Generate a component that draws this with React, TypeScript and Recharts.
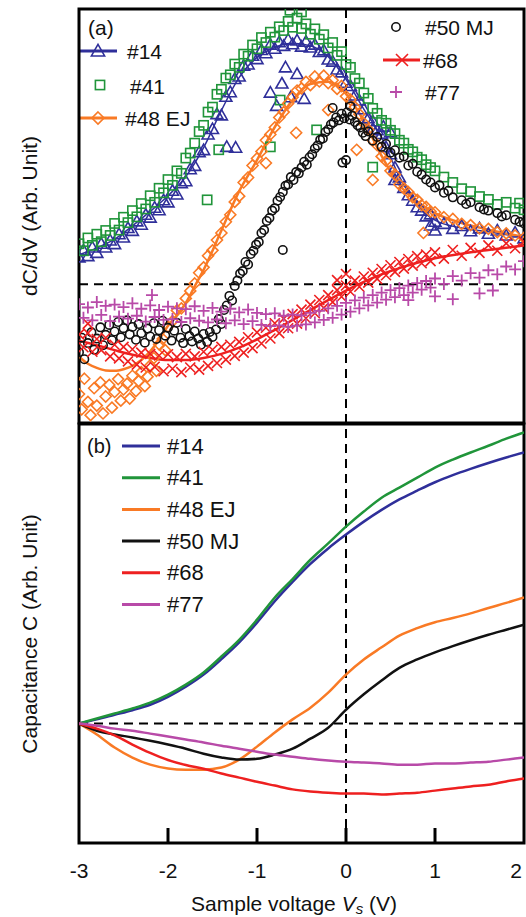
import React from 'react'
import {
    ComposedChart,
    Scatter,
    Line,
    XAxis,
    YAxis,
    ReferenceLine,
    ReferenceArea,
    Customized
} from 'recharts'

const FONT = '"Liberation Sans", Arial, Helvetica, sans-serif'

const COLORS = {
    blue: '#2f2f9a',
    green: '#20953a',
    orange: '#f97a25',
    black: '#111111',
    red: '#ee2020',
    magenta: '#b84aa8'
}

const seriesNames = ['#14', '#41', '#48 EJ', '#50 MJ', '#68', '#77']
const xTicks = [-3, -2, -1, 0, 1, 2]

// (a) dC/dV points, [sample voltage, value]
const dcdv14 = [
    [-3.0, 6.5], [-2.95, 8.2], [-2.9, 6.8], [-2.85, 8.9], [-2.8, 7.6], [-2.75, 9.8], [-2.7, 8.9], [-2.65, 10.6],
    [-2.6, 9.7], [-2.55, 12.1], [-2.5, 11.3], [-2.45, 13.6], [-2.4, 12.9], [-2.35, 15.2], [-2.3, 14.4], [-2.25, 16.8],
    [-2.2, 16.1], [-2.15, 18.5], [-2.1, 17.9], [-2.05, 20.3], [-2.0, 19.8], [-1.95, 22.6], [-1.9, 21.7], [-1.85, 24.4],
    [-1.8, 24.9], [-1.75, 27.8], [-1.7, 28.6], [-1.65, 31.9], [-1.6, 32.4], [-1.55, 36.2], [-1.5, 37.5], [-1.45, 41.1],
    [-1.4, 40.8], [-1.35, 45.3], [-1.3, 46.4], [-1.25, 49.6], [-1.2, 50.2], [-1.15, 52.8], [-1.1, 53.1], [-1.05, 55.2],
    [-1.0, 54.4], [-0.95, 56.6], [-0.9, 55.8], [-0.85, 57.9], [-0.8, 56.9], [-0.75, 58.5], [-0.7, 57.6], [-0.65, 59.1],
    [-0.6, 58.0], [-0.55, 58.9], [-0.5, 57.4], [-0.45, 58.6], [-0.4, 57.2], [-0.35, 57.9], [-0.3, 56.1], [-0.25, 56.5],
    [-0.2, 54.3], [-0.15, 53.8], [-0.1, 51.9], [-0.05, 51.2], [0.0, 48.7], [0.05, 47.9], [0.1, 45.6], [0.15, 44.4],
    [0.2, 42.3], [0.25, 40.1], [0.3, 39.4], [0.35, 37.2], [0.4, 36.3], [0.45, 33.1], [0.5, 31.4], [0.55, 28.2],
    [0.6, 25.8], [0.65, 23.3], [0.7, 21.5], [0.75, 20.2], [0.8, 18.6], [0.85, 17.8], [0.9, 16.4], [0.95, 16.9],
    [1.0, 15.1], [1.1, 14.6], [1.2, 13.4], [1.3, 14.1], [1.4, 12.8], [1.5, 13.5], [1.6, 12.2], [1.7, 13.0],
    [1.8, 11.8], [1.9, 12.5], [2.0, 11.1],
    [-1.34, 33.2], [-1.24, 33.0], [-0.85, 46.3], [-0.78, 43.1], [-0.72, 48.5], [-0.62, 45.2], [-0.55, 50.8],
    [-0.47, 44.8], [-0.68, 52.4], [0.3, 37.5], [0.42, 38.1], [0.5, 36.7], [0.55, 25.2], [0.95, 14.2], [1.0, 13.0]
]

const dcdv41 = [
    [-3.0, 9.8], [-2.95, 8.1], [-2.9, 11.2], [-2.85, 9.4], [-2.8, 12.1], [-2.75, 10.3], [-2.7, 13.0], [-2.65, 11.8],
    [-2.6, 14.7], [-2.55, 13.1], [-2.5, 16.2], [-2.45, 14.9], [-2.4, 17.8], [-2.35, 16.3], [-2.3, 19.5], [-2.25, 18.2],
    [-2.2, 21.4], [-2.15, 19.8], [-2.1, 23.2], [-2.05, 22.1], [-2.0, 25.3], [-1.95, 23.9], [-1.9, 27.4], [-1.85, 26.8],
    [-1.8, 30.5], [-1.75, 31.7], [-1.7, 34.1], [-1.65, 36.9], [-1.6, 38.4], [-1.55, 41.6], [-1.5, 42.8], [-1.45, 45.9],
    [-1.4, 47.1], [-1.35, 49.8], [-1.3, 50.6], [-1.25, 53.2], [-1.2, 52.4], [-1.15, 55.6], [-1.1, 55.1], [-1.05, 57.8],
    [-1.0, 56.9], [-0.95, 59.6], [-0.9, 58.4], [-0.85, 60.9], [-0.8, 59.7], [-0.75, 62.2], [-0.7, 61.3], [-0.65, 63.5],
    [-0.6, 62.1], [-0.55, 64.3], [-0.5, 61.8], [-0.45, 62.9], [-0.4, 60.4], [-0.35, 61.7], [-0.3, 59.2], [-0.25, 60.3],
    [-0.2, 57.1], [-0.15, 58.4], [-0.1, 55.3], [-0.05, 56.2], [0.0, 53.1], [0.05, 52.4], [0.1, 49.7], [0.15, 48.6],
    [0.2, 46.2], [0.25, 44.9], [0.3, 42.5], [0.35, 41.3], [0.4, 39.6], [0.45, 38.9], [0.5, 37.2], [0.55, 36.4],
    [0.6, 34.8], [0.65, 34.1], [0.7, 32.6], [0.75, 32.0], [0.8, 30.7], [0.85, 30.1], [0.9, 28.9], [0.95, 28.2],
    [1.0, 27.4], [1.1, 25.9], [1.2, 24.6], [1.3, 23.1], [1.4, 22.4], [1.5, 21.2], [1.6, 20.5], [1.7, 19.3],
    [1.8, 19.8], [1.9, 18.4], [1.95, 19.6], [2.0, 18.0],
    [-0.74, 44.5], [-0.33, 37.3], [-0.85, 33.2], [0.3, 28.3], [-1.56, 20.4], [-1.43, 32.5], [-0.63, 66.2], [-0.5, 65.8]
]

const dcdv48 = [
    [-3.0, -26.5], [-2.97, -30.2], [-2.94, -22.8], [-2.9, -28.4], [-2.87, -31.6], [-2.83, -25.1], [-2.8, -29.3],
    [-2.76, -23.7], [-2.73, -31.2], [-2.7, -27.1], [-2.66, -24.3], [-2.63, -29.8], [-2.6, -26.0], [-2.56, -22.9],
    [-2.53, -28.1], [-2.5, -25.4], [-2.46, -24.0], [-2.43, -27.6], [-2.4, -22.1], [-2.36, -25.8], [-2.33, -23.4],
    [-2.3, -21.2], [-2.26, -24.6], [-2.23, -22.3], [-2.2, -19.6], [-2.16, -17.8], [-2.13, -20.9], [-2.1, -14.5],
    [-2.06, -13.2], [-2.03, -15.9],
    [-2.0, -10.2], [-1.95, -8.9], [-1.9, -6.3], [-1.85, -5.8], [-1.8, -3.4], [-1.75, -1.6], [-1.7, 0.2], [-1.65, 2.8],
    [-1.6, 4.1], [-1.55, 6.9], [-1.5, 8.2], [-1.45, 10.7], [-1.4, 12.4], [-1.35, 15.1], [-1.3, 16.8], [-1.25, 19.9],
    [-1.2, 21.3], [-1.15, 24.6], [-1.1, 25.8], [-1.05, 28.7], [-1.0, 30.4], [-0.95, 32.1], [-0.9, 34.8], [-0.85, 36.2],
    [-0.8, 37.9], [-0.75, 40.3], [-0.7, 41.6], [-0.65, 43.7], [-0.6, 45.2], [-0.55, 46.8], [-0.5, 47.3], [-0.45, 48.9],
    [-0.4, 48.1], [-0.35, 50.2], [-0.3, 49.0], [-0.25, 50.4], [-0.2, 48.6], [-0.15, 49.3], [-0.1, 47.2], [-0.05, 47.9],
    [0.0, 45.4], [0.05, 44.6], [0.1, 42.8], [0.15, 41.1], [0.2, 38.9], [0.25, 37.4], [0.3, 34.8], [0.35, 33.6],
    [0.4, 30.9], [0.45, 29.8], [0.5, 27.4], [0.55, 26.5], [0.6, 24.1], [0.65, 23.2], [0.7, 22.3], [0.75, 21.0],
    [0.8, 20.4], [0.85, 19.1], [0.9, 18.7], [0.95, 17.6], [1.0, 17.4], [1.1, 16.2], [1.2, 15.8], [1.3, 14.6],
    [1.4, 14.3], [1.5, 13.5], [1.6, 13.4], [1.7, 12.6], [1.8, 12.3], [1.9, 11.8], [2.0, 11.2],
    [-0.56, 36.6], [0.12, 32.5], [0.3, 25.2], [0.87, 12.4], [-0.9, 29.3], [-0.2, 42.1]
]

const dcdv50 = [
    [-3.0, -16.4], [-2.97, -12.9], [-2.94, -18.1], [-2.9, -14.2], [-2.86, -11.6], [-2.83, -15.8], [-2.8, -13.1],
    [-2.76, -10.4], [-2.73, -14.7], [-2.7, -12.2], [-2.66, -9.8], [-2.63, -13.5], [-2.6, -11.4], [-2.56, -9.1],
    [-2.53, -12.8], [-2.5, -10.6], [-2.46, -8.7], [-2.43, -12.1], [-2.4, -10.3], [-2.36, -13.4], [-2.33, -9.6],
    [-2.3, -11.8], [-2.26, -14.1], [-2.23, -10.7], [-2.2, -12.6], [-2.16, -9.4], [-2.13, -13.2], [-2.1, -11.1],
    [-2.06, -8.8], [-2.03, -12.4], [-2.0, -10.5], [-1.96, -13.6], [-1.93, -11.2], [-1.9, -9.3], [-1.86, -12.9],
    [-1.83, -14.2], [-1.8, -10.8], [-1.76, -12.5], [-1.73, -13.8], [-1.7, -11.4], [-1.66, -13.1], [-1.63, -14.6],
    [-1.6, -12.0], [-1.56, -13.9], [-1.53, -11.5], [-1.5, -12.7], [-1.46, -10.9], [-1.43, -8.4],
    [-1.4, -9.6], [-1.37, -6.2], [-1.34, -5.1], [-1.31, -2.8], [-1.28, -3.9], [-1.25, -0.4], [-1.22, 0.9], [-1.19, 2.6],
    [-1.16, 3.2], [-1.13, 5.4], [-1.1, 4.8], [-1.07, 7.3], [-1.04, 8.1], [-1.01, 9.6], [-0.98, 10.2], [-0.95, 12.4],
    [-0.92, 13.1], [-0.89, 15.3], [-0.86, 16.0], [-0.83, 17.8], [-0.8, 18.4], [-0.77, 20.2], [-0.74, 21.1],
    [-0.71, 22.3], [-0.68, 23.8], [-0.65, 24.1], [-0.62, 25.9], [-0.59, 25.2], [-0.56, 27.1], [-0.53, 26.8],
    [-0.5, 28.2], [-0.47, 29.6], [-0.44, 28.9], [-0.41, 30.7], [-0.38, 31.4], [-0.35, 32.8], [-0.32, 33.5],
    [-0.29, 34.9], [-0.26, 35.2], [-0.23, 36.8], [-0.2, 37.4], [-0.17, 38.6], [-0.14, 39.1], [-0.11, 40.3],
    [-0.08, 39.6], [-0.05, 41.2], [-0.02, 40.1], [0.01, 41.5], [0.04, 39.8], [0.07, 40.7], [0.1, 39.2], [0.13, 38.4],
    [0.16, 37.9], [0.19, 36.6], [0.22, 35.8], [0.25, 36.9], [0.3, 34.7], [0.35, 35.6], [0.4, 33.2], [0.45, 33.9],
    [0.5, 31.8], [0.55, 32.4], [0.6, 30.6], [0.65, 30.9], [0.7, 28.7], [0.75, 29.1], [0.8, 27.2], [0.85, 26.5],
    [0.9, 25.3], [0.95, 24.6], [1.0, 23.4], [1.05, 23.9], [1.1, 22.1], [1.15, 22.6], [1.2, 21.0], [1.3, 20.3],
    [1.35, 19.4], [1.4, 19.8], [1.5, 18.6], [1.55, 18.1], [1.6, 17.8], [1.7, 17.2], [1.75, 16.4], [1.8, 16.7],
    [1.9, 15.6], [1.95, 15.1], [2.0, 14.7],
    [0.0, 30.0], [-0.04, 29.4], [-0.71, 8.3], [-0.15, 42.6], [0.05, 43.0]
]

const dcdv68 = [
    [-3.0, -12.1], [-2.95, -15.2], [-2.9, -11.8], [-2.85, -16.3], [-2.8, -13.2], [-2.75, -15.9], [-2.7, -12.9],
    [-2.65, -17.4], [-2.6, -14.6], [-2.55, -17.9], [-2.5, -15.1], [-2.45, -18.6], [-2.4, -15.7], [-2.35, -19.4],
    [-2.3, -16.5], [-2.25, -20.1], [-2.2, -16.8], [-2.15, -19.9], [-2.1, -17.2], [-2.05, -21.0], [-2.0, -16.9],
    [-1.95, -20.4], [-1.9, -17.6], [-1.85, -21.2], [-1.8, -16.8], [-1.75, -20.1], [-1.7, -17.4], [-1.65, -20.6],
    [-1.6, -16.3], [-1.55, -19.7], [-1.5, -15.8], [-1.45, -19.0], [-1.4, -15.1], [-1.35, -18.2], [-1.3, -14.6],
    [-1.25, -17.3], [-1.2, -13.9], [-1.15, -16.5], [-1.1, -12.8], [-1.05, -15.4], [-1.0, -11.6], [-0.95, -14.3],
    [-0.9, -10.5], [-0.85, -13.1], [-0.8, -9.4], [-0.75, -11.8], [-0.7, -8.3], [-0.65, -10.6], [-0.6, -7.2],
    [-0.55, -9.5], [-0.5, -6.1], [-0.45, -8.2], [-0.4, -4.9], [-0.35, -7.0], [-0.3, -3.8], [-0.25, -5.7], [-0.2, -2.6],
    [-0.15, -4.3], [-0.1, -1.4], [-0.05, -3.0], [0.0, -0.3], [0.05, -1.8], [0.1, 0.9], [0.15, -0.6], [0.2, 1.9],
    [0.25, 0.4], [0.3, 2.8], [0.35, 1.3], [0.4, 3.7], [0.45, 2.2], [0.5, 4.6], [0.55, 3.0], [0.6, 5.4], [0.65, 3.8],
    [0.7, 6.1], [0.75, 4.5], [0.8, 6.8], [0.85, 5.1], [0.9, 7.2], [0.95, 5.6], [1.0, 7.7], [1.1, 6.2], [1.2, 8.3],
    [1.3, 6.9], [1.4, 8.8], [1.5, 7.6], [1.6, 9.4], [1.7, 8.1], [1.8, 9.9], [1.9, 8.7], [2.0, 10.3],
    [0.0, 2.5], [-0.1, 1.0], [-2.9, -9.5]
]

const dcdv77 = [
    [-3.0, -4.8], [-2.95, -8.1], [-2.9, -5.6], [-2.85, -8.7], [-2.8, -4.3], [-2.75, -7.4], [-2.7, -5.2], [-2.65, -8.9],
    [-2.6, -4.9], [-2.55, -7.8], [-2.5, -5.5], [-2.45, -8.3], [-2.4, -4.6], [-2.35, -7.6], [-2.3, -5.9], [-2.25, -9.0],
    [-2.2, -5.1], [-2.15, -7.9], [-2.1, -6.2], [-2.05, -8.6], [-2.0, -5.4], [-1.95, -8.4], [-1.9, -5.8], [-1.85, -9.1],
    [-1.8, -6.0], [-1.75, -8.2], [-1.7, -5.3], [-1.65, -8.8], [-1.6, -6.4], [-1.55, -9.2], [-1.5, -5.7], [-1.45, -8.5],
    [-1.4, -6.6], [-1.35, -9.4], [-1.3, -5.9], [-1.25, -8.7], [-1.2, -6.8], [-1.15, -9.6], [-1.1, -6.1], [-1.05, -8.9],
    [-1.0, -6.9], [-0.95, -9.8], [-0.9, -7.2], [-0.85, -10.1], [-0.8, -7.0], [-0.75, -9.9], [-0.7, -7.6], [-0.65, -10.3],
    [-0.6, -7.3], [-0.55, -10.0], [-0.5, -7.5], [-0.45, -9.7], [-0.4, -6.9], [-0.35, -9.2], [-0.3, -6.4], [-0.25, -8.6],
    [-0.2, -5.8], [-0.15, -8.1], [-0.1, -5.2], [-0.05, -7.3], [0.0, -4.5], [0.05, -6.6], [0.1, -3.9], [0.15, -5.8],
    [0.2, -3.2], [0.25, -5.1], [0.3, -2.6], [0.35, -4.4], [0.4, -2.0], [0.45, -3.7], [0.5, -1.4], [0.55, -3.1],
    [0.6, -0.9], [0.65, -2.6], [0.7, -0.3], [0.75, -2.0], [0.8, 0.3], [0.85, -1.3], [0.9, 0.8], [0.95, -0.8],
    [1.0, 1.4], [1.1, 0.1], [1.2, 2.0], [1.3, 0.9], [1.4, 2.7], [1.5, 1.6], [1.6, 3.4], [1.7, 2.4], [1.8, 4.3],
    [1.9, 3.6], [2.0, 5.6],
    [-2.18, -2.6], [0.7, -3.8], [1.0, -2.9], [1.2, -3.6], [1.5, -2.2], [1.65, -1.5]
]

// fitted curves drawn through the scatter of (a)
const fit14 = [
    [-3.0, 7.1], [-2.8, 8.8], [-2.6, 10.9], [-2.4, 14.1], [-2.2, 17.6], [-2.0, 21.4], [-1.8, 26.0], [-1.6, 33.0],
    [-1.4, 42.0], [-1.2, 50.0], [-1.0, 54.8], [-0.8, 57.2], [-0.6, 58.2], [-0.4, 57.6], [-0.2, 55.0], [0.0, 49.5],
    [0.2, 42.3], [0.4, 35.5], [0.6, 26.0], [0.8, 19.0], [1.0, 15.5], [1.3, 13.6], [1.6, 12.7], [2.0, 11.3]
]

const fit48 = [
    [-3.0, -17.5], [-2.9, -19.2], [-2.8, -20.2], [-2.7, -20.8], [-2.6, -20.9], [-2.5, -20.5], [-2.4, -19.7],
    [-2.3, -18.3], [-2.2, -16.2], [-2.1, -13.4], [-2.0, -10.0], [-1.9, -7.5], [-1.8, -4.5], [-1.7, -0.5],
    [-1.6, 3.5], [-1.4, 13.0], [-1.2, 22.5], [-1.0, 30.0], [-0.8, 38.0], [-0.6, 44.5], [-0.4, 48.4], [-0.2, 48.9],
    [0.0, 46.0], [0.2, 39.5], [0.4, 31.0], [0.6, 24.0], [0.8, 20.0], [1.0, 17.2], [1.3, 14.8], [1.6, 13.2], [2.0, 11.4]
]

const fit68 = [
    [-3.0, -13.6], [-2.8, -14.7], [-2.6, -15.9], [-2.4, -17.0], [-2.2, -17.8], [-2.0, -18.3], [-1.8, -18.3],
    [-1.6, -17.8], [-1.4, -16.8], [-1.2, -15.3], [-1.0, -13.3], [-0.8, -11.0], [-0.6, -8.6], [-0.4, -6.2],
    [-0.2, -3.8], [0.0, -1.5], [0.2, 0.6], [0.4, 2.4], [0.6, 3.9], [0.8, 5.2], [1.0, 6.3], [1.3, 7.4], [1.6, 8.3],
    [2.0, 9.4]
]

// (b) capacitance curves
const capVolts = [
    -3.0, -2.8, -2.6, -2.4, -2.2, -2.0, -1.8, -1.6, -1.4, -1.2, -1.0, -0.8, -0.6,
    -0.4, -0.2, 0.0, 0.2, 0.4, 0.6, 0.8, 1.0, 1.2, 1.4, 1.6, 1.8, 2.0
]
const cap14 = [0, 1.0, 2.1, 3.2, 4.5, 6.4, 8.8, 11.7, 15.4, 19.4, 24.1, 29.2, 33.8, 38.1, 41.8, 45.1, 48.2, 51.0, 53.5, 55.6, 57.6, 59.3, 60.8, 62.2, 63.5, 64.7]
const cap41 = [0, 1.2, 2.4, 3.6, 5.0, 6.9, 9.3, 12.2, 16.0, 20.0, 24.8, 30.1, 34.5, 39.1, 43.0, 47.0, 50.6, 53.9, 56.3, 58.7, 61.1, 63.0, 64.7, 66.3, 68.0, 69.5]
const cap48 = [0, -2.6, -5.7, -8.1, -9.8, -10.7, -11.0, -11.0, -10.5, -8.6, -5.5, -2.1, 1.0, 3.8, 7.4, 11.7, 15.3, 18.2, 21.0, 22.8, 24.2, 25.2, 26.3, 27.6, 28.8, 30.1]
const cap50 = [0, -1.7, -2.6, -3.3, -4.1, -5.0, -6.0, -7.2, -8.1, -8.6, -8.4, -7.4, -6.0, -3.6, -1.0, 3.3, 7.0, 10.3, 13.3, 15.3, 17.0, 18.5, 19.9, 21.2, 22.4, 23.6]
const cap68 = [0, -1.2, -2.8, -5.0, -7.0, -8.7, -9.9, -10.8, -11.9, -12.9, -13.9, -14.8, -15.7, -16.2, -16.5, -16.7, -16.7, -16.9, -16.7, -16.5, -16.0, -15.5, -15.0, -14.6, -13.8, -13.1]
const cap77 = [0, -0.5, -1.2, -1.7, -2.4, -3.1, -3.8, -4.5, -5.3, -6.0, -6.7, -7.4, -7.9, -8.4, -8.8, -9.1, -9.3, -9.5, -9.8, -9.8, -9.5, -9.5, -9.3, -9.1, -8.6, -8.1]

const capData = capVolts.map((x, i) => ({
    x,
    c14: cap14[i],
    c41: cap41[i],
    c48: cap48[i],
    c50: cap50[i],
    c68: cap68[i],
    c77: cap77[i]
}))

const toXY = (pts: number[][]) => pts.map(([x, y]) => ({ x, y }))

type MarkerKind = 'tri' | 'square' | 'diamond' | 'circle' | 'cross' | 'plus'

function Marker({ kind, cx, cy, color, s = 1 }: { kind: MarkerKind; cx: number; cy: number; color: string; s?: number }) {
    const sw = 1.6
    if (kind === 'tri') {
        const r = 6 * s
        return <path d={`M${cx},${cy - r}L${cx + r},${cy + r * 0.75}L${cx - r},${cy + r * 0.75}Z`} fill="none" stroke={color} strokeWidth={sw} />
    }
    if (kind === 'square') {
        const r = 4.6 * s
        return <rect x={cx - r} y={cy - r} width={2 * r} height={2 * r} fill="none" stroke={color} strokeWidth={sw} />
    }
    if (kind === 'diamond') {
        const r = 5.5 * s
        return <path d={`M${cx},${cy - r}L${cx + r},${cy}L${cx},${cy + r}L${cx - r},${cy}Z`} fill="none" stroke={color} strokeWidth={sw} />
    }
    if (kind === 'circle') {
        return <circle cx={cx} cy={cy} r={4.2 * s} fill="none" stroke={color} strokeWidth={sw} />
    }
    if (kind === 'cross') {
        const r = 5 * s
        return <path d={`M${cx - r},${cy - r}L${cx + r},${cy + r}M${cx - r},${cy + r}L${cx + r},${cy - r}`} stroke={color} strokeWidth={sw} />
    }
    const r = 6 * s
    return <path d={`M${cx - r},${cy}L${cx + r},${cy}M${cx},${cy - r}L${cx},${cy + r}`} stroke={color} strokeWidth={1.8} />
}

const shapeOf = (kind: MarkerKind, color: string) => (p: any) => <Marker kind={kind} cx={p.cx} cy={p.cy} color={color} />

const dash = { stroke: '#000', strokeWidth: 2, strokeDasharray: '9 6' }

// legend, panel label and y title of (a), in chart pixels
function LegendA() {
    return (
        <g fontFamily={FONT} fontSize={21} fill="#111">
            <text x={29} y={216} textAnchor="middle" dominantBaseline="central" transform="rotate(-90, 29, 216)">
                dC/dV (Arb. Unit)
            </text>
            <text x={88} y={27} dominantBaseline="central" fontSize={21}>(a)</text>

            <line x1={80} x2={117} y1={51} y2={51} stroke={COLORS.blue} strokeWidth={3} />
            <Marker kind="tri" cx={98} cy={51} color={COLORS.blue} s={1.1} />
            <text x={127} y={51} dominantBaseline="central">{seriesNames[0]}</text>

            <Marker kind="square" cx={100} cy={85} color={COLORS.green} />
            <text x={130} y={86} dominantBaseline="central">{seriesNames[1]}</text>

            <line x1={80} x2={117} y1={118} y2={118} stroke={COLORS.orange} strokeWidth={3} />
            <Marker kind="diamond" cx={98} cy={118} color={COLORS.orange} s={1.1} />
            <text x={125} y={118} dominantBaseline="central">{seriesNames[2]}</text>

            <Marker kind="circle" cx={396} cy={27} color={COLORS.black} />
            <text x={425} y={27} dominantBaseline="central">{seriesNames[3]}</text>

            <line x1={383} x2={420} y1={60} y2={60} stroke={COLORS.red} strokeWidth={3} />
            <Marker kind="cross" cx={402} cy={60} color={COLORS.red} s={1.2} />
            <text x={423} y={60} dominantBaseline="central">{seriesNames[4]}</text>

            <Marker kind="plus" cx={396} cy={92} color={COLORS.magenta} />
            <text x={425} y={92} dominantBaseline="central">{seriesNames[5]}</text>
        </g>
    )
}

const capColors = [COLORS.blue, COLORS.green, COLORS.orange, COLORS.black, COLORS.red, COLORS.magenta]

// legend, panel label and axis titles of (b)
function LegendB() {
    return (
        <g fontFamily={FONT} fill="#111">
            <text x={29} y={214} fontSize={21} textAnchor="middle" dominantBaseline="central" transform="rotate(-90, 29, 214)">
                Capacitance C (Arb. Unit)
            </text>
            <text x={87} y={26} fontSize={20} dominantBaseline="central">(b)</text>
            {seriesNames.map((name, i) => (
                <g key={name}>
                    <line x1={122} x2={160} y1={26 + i * 31.7} y2={26 + i * 31.7} stroke={capColors[i]} strokeWidth={3} />
                    <text x={167} y={26 + i * 31.7} fontSize={22} dominantBaseline="central">{name}</text>
                </g>
            ))}
            <text x={294} y={483} fontSize={21} textAnchor="middle" dominantBaseline="central">
                Sample voltage <tspan fontStyle="italic">V</tspan>
                <tspan fontStyle="italic" fontSize={15} dy={5}>s</tspan>
                <tspan dy={-5}> (V)</tspan>
            </text>
        </g>
    )
}

function BottomTick(props: any) {
    const { x, y, payload } = props
    const v = payload.value
    const inner = v > -3 && v < 2
    return (
        <g>
            {inner && <line x1={x} x2={x} y1={y} y2={y - 15} stroke="#000" strokeWidth={3} />}
            <text x={v === 2 ? x - 8 : x} y={y + 27} textAnchor="middle" dominantBaseline="central" fontFamily={FONT} fontSize={21} fill="#111">
                {v}
            </text>
        </g>
    )
}

export default function App() {
    return (
        <div style={{ position: 'absolute', top: 0, left: 0, width: 526, height: 917, background: '#fff', overflow: 'hidden' }}>
            <div style={{ position: 'absolute', top: 0, left: 0 }}>
                <ComposedChart width={526} height={426} margin={{ top: 9, right: 2, bottom: 3, left: 79 }}>
                    <XAxis type="number" dataKey="x" domain={[-3, 2]} hide allowDataOverflow />
                    <YAxis type="number" dataKey="y" domain={[-33.5, 66.5]} hide allowDataOverflow />
                    <ReferenceLine y={0} {...dash} />
                    <ReferenceLine x={0} {...dash} />
                    <Scatter data={toXY(dcdv14)} shape={shapeOf('tri', COLORS.blue)} isAnimationActive={false} />
                    <Line data={toXY(fit14)} dataKey="y" type="monotone" stroke={COLORS.blue} strokeWidth={1.5} dot={false} isAnimationActive={false} />
                    <Scatter data={toXY(dcdv41)} shape={shapeOf('square', COLORS.green)} isAnimationActive={false} />
                    <Scatter data={toXY(dcdv48)} shape={shapeOf('diamond', COLORS.orange)} isAnimationActive={false} />
                    <Line data={toXY(fit48)} dataKey="y" type="monotone" stroke={COLORS.orange} strokeWidth={2.5} dot={false} isAnimationActive={false} />
                    <Scatter data={toXY(dcdv50)} shape={shapeOf('circle', COLORS.black)} isAnimationActive={false} />
                    <Scatter data={toXY(dcdv68)} shape={shapeOf('cross', COLORS.red)} isAnimationActive={false} />
                    <Line data={toXY(fit68)} dataKey="y" type="monotone" stroke={COLORS.red} strokeWidth={2.5} dot={false} isAnimationActive={false} />
                    <Scatter data={toXY(dcdv77)} shape={shapeOf('plus', COLORS.magenta)} isAnimationActive={false} />
                    <ReferenceArea x1={-3} x2={2} y1={-33.5} y2={66.5} fill="none" fillOpacity={0} stroke="#000" strokeWidth={3} />
                    <Customized component={LegendA} />
                </ComposedChart>
            </div>
            <div style={{ position: 'absolute', top: 420, left: 0 }}>
                <ComposedChart width={526} height={497} data={capData} margin={{ top: 4, right: 2, bottom: 0, left: 79 }}>
                    <XAxis
                        type="number"
                        dataKey="x"
                        domain={[-3, 2]}
                        ticks={xTicks}
                        interval={0}
                        allowDataOverflow
                        axisLine={false}
                        tickLine={false}
                        tickSize={0}
                        tickMargin={0}
                        height={74}
                        tick={(p: any) => <BottomTick {...p} />}
                    />
                    <YAxis type="number" domain={[-28.5, 71.5]} hide allowDataOverflow />
                    <ReferenceLine y={0} {...dash} />
                    <ReferenceLine x={0} {...dash} />
                    <Line dataKey="c14" type="monotone" stroke={COLORS.blue} strokeWidth={2.5} dot={false} isAnimationActive={false} />
                    <Line dataKey="c41" type="monotone" stroke={COLORS.green} strokeWidth={2.5} dot={false} isAnimationActive={false} />
                    <Line dataKey="c48" type="monotone" stroke={COLORS.orange} strokeWidth={2.5} dot={false} isAnimationActive={false} />
                    <Line dataKey="c50" type="monotone" stroke={COLORS.black} strokeWidth={2.5} dot={false} isAnimationActive={false} />
                    <Line dataKey="c68" type="monotone" stroke={COLORS.red} strokeWidth={2.5} dot={false} isAnimationActive={false} />
                    <Line dataKey="c77" type="monotone" stroke={COLORS.magenta} strokeWidth={2.5} dot={false} isAnimationActive={false} />
                    <ReferenceArea x1={-3} x2={2} y1={-28.5} y2={71.5} fill="none" fillOpacity={0} stroke="#000" strokeWidth={3} />
                    <Customized component={LegendB} />
                </ComposedChart>
            </div>
        </div>
    )
}
